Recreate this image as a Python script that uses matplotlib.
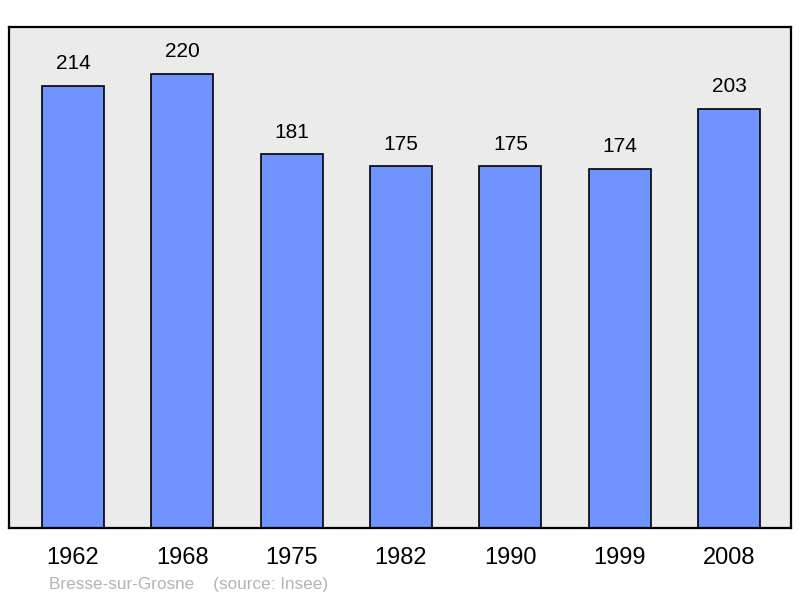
import matplotlib.pyplot as plt

plt.rcParams['font.family'] = ['Liberation Sans', 'DejaVu Sans']

years = ['1962', '1968', '1975', '1982', '1990', '1999', '2008']
population = [214, 220, 181, 175, 175, 174, 203]

fig = plt.figure(figsize=(8, 5.98), dpi=100)
ax = fig.add_axes([0.01125, 0.117, 0.9775, 0.8378])
ax.set_facecolor('#ebebeb')

x = range(len(years))
bars = ax.bar(x, population, width=0.567, color='#7094ff', edgecolor='black', linewidth=1.2)
for xi, v in zip(x, population):
    ax.annotate(str(v), (xi, v), xytext=(0, 9), textcoords='offset points',
                ha='center', va='bottom', fontsize=15)

ax.set_xlim(-0.585, 6.567)
ax.set_ylim(0, 242.5)
ax.set_xticks(list(x))
ax.set_xticklabels(years, fontsize=17)
ax.tick_params(axis='x', length=0, pad=14)
ax.set_yticks([])
for s in ax.spines.values():
    s.set_linewidth(1.6)

fig.text(0.061, 0.01, 'Bresse-sur-Grosne    (source: Insee)', color='#b3b3b3',
         fontsize=12.3, ha='left', va='bottom')

fig.savefig('out.png', dpi=100)
